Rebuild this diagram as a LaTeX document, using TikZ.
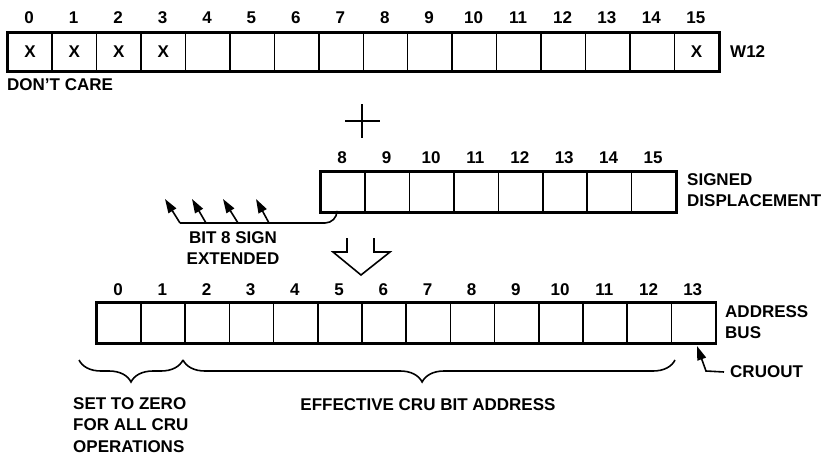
\documentclass[tikz,border=0pt]{standalone}
\usepackage{fontspec}
\setmainfont{Liberation Sans}
\usetikzlibrary{arrows.meta,decorations.pathreplacing}
\begin{document}
\begin{tikzpicture}[x=1pt,y=-1pt,
  font=\fontsize{17}{21.5}\selectfont\bfseries,
  cell/.style={draw, line width=1.5pt, minimum width=44.4pt, minimum height=39pt, inner sep=0pt, anchor=west},
  frame/.style={line width=2.2pt},
  bitnum/.style={inner sep=0pt},
  lbl/.style={inner sep=0pt, align=left},
  conn/.style={line width=1.6pt},
  headtip/.style={-{Triangle[length=14pt,width=9pt]}},
  brc/.style={line width=1.6pt, decorate, decoration={brace, mirror, amplitude=22pt}}]
\useasboundingbox (0,0) rectangle (825,455);

% --- W12 register ---
\foreach \i in {0,...,15} {
  \node[cell, minimum width=44.44pt, minimum height=38pt] (w\i) at ({7+44.44*\i}, 52) {};
  \node[bitnum] (wn\i) at ({29.22+44.44*\i}, 18) {\i};
}
\draw[frame] (w0.north west) rectangle (w15.south east);
\foreach \i in {0,1,2,3,15} \node[bitnum] (x\i) at (w\i.center) {X};
\node[lbl, anchor=west] (w12) at (730,52) {W12};
\node[lbl, anchor=west] (dc) at (7,85) {DON'T CARE};

% plus sign
\draw[line width=1.5pt] (345,121) -- (380,121) (362,104) -- (362,138);

% --- signed displacement ---
\foreach \j [count=\k from 0] in {8,...,15} {
  \node[cell, minimum height=40pt] (d\j) at ({320+44.4*\k}, 192) {};
  \node[bitnum] (dn\j) at ({342.2+44.4*\k}, 158) {\j};
}
\draw[frame] (d8.north west) rectangle (d15.south east);
\node[lbl, anchor=west] (sd) at (687,190) {SIGNED\\DISPLACEMENT};

% sign extension
\coordinate (se) at ([xshift=17pt]d8.south west);
\coordinate (b1) at (180,223);
\coordinate (b2) at (206,223);
\coordinate (b3) at (238,223);
\coordinate (b4) at (269,223);
\coordinate (t1) at (165,199);
\coordinate (t2) at (192,199);
\coordinate (t3) at (223,199);
\coordinate (t4) at (256,199);
\draw[conn, rounded corners=12pt] (se) |- (b1);
\foreach \n in {1,...,4} \draw[conn, headtip] (b\n) -- (t\n);
\node[lbl, align=center] (bse) at (233,248) {BIT 8 SIGN\\EXTENDED};

% hollow arrow
\draw[line width=1.6pt, line join=miter] (347,238) -- (347,252) -- (333,252) -- (361,275) -- (390,252) -- (374,252) -- (374,238);

% --- address bus ---
\foreach \i in {0,...,13} {
  \node[cell, minimum width=44.2pt, minimum height=40pt] (a\i) at ({96+44.2*\i}, 323) {};
  \node[bitnum] (an\i) at ({118.1+44.2*\i}, 290) {\i};
}
\draw[frame] (a0.north west) rectangle (a13.south east);
\node[lbl, anchor=west] (ab) at (725,322) {ADDRESS\\BUS};

% CRUOUT
\node[lbl, anchor=west] (cr) at (730,372) {CRUOUT};
\coordinate (cb) at (706,371);
\coordinate (ct) at (697,346);
\draw[conn, headtip] ([xshift=-6pt]cr.west) -- (cb) -- (ct);

% braces
\coordinate (br0) at (79,360);
\coordinate (br1) at (183,360);
\coordinate (br2) at (675,360);
\draw[brc] (br0) -- (br1);
\draw[brc, decoration={aspect=0.486}] (br1) -- (br2);
\node[lbl, anchor=west] (stz) at (73,425) {SET TO ZERO\\FOR ALL CRU\\OPERATIONS};
\node[lbl] (eff) at (428,405) {EFFECTIVE CRU BIT ADDRESS};
\end{tikzpicture}
\end{document}
